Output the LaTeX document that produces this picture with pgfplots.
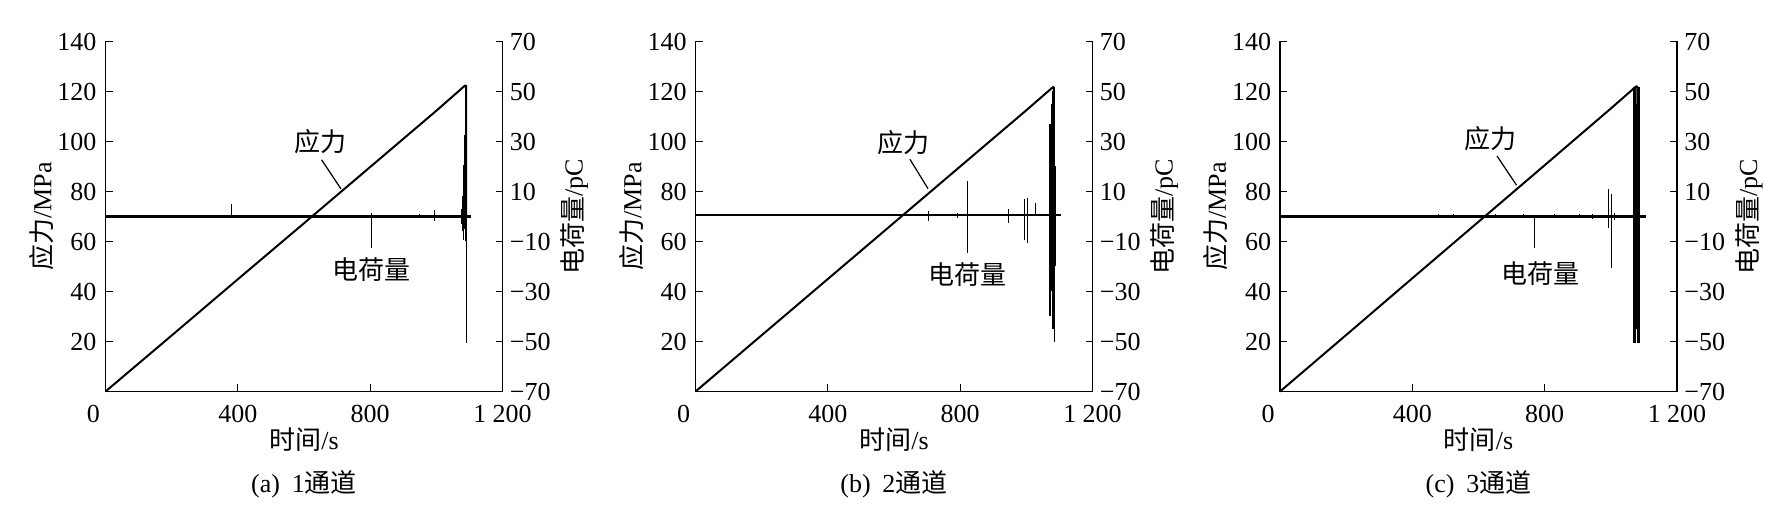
\documentclass[border=0pt]{standalone}
\usepackage{fontspec}
\setmainfont{Liberation Serif}
\newfontfamily\cjk{Noto Sans CJK SC}
\usepackage{pgfplots}
\pgfplotsset{compat=1.18}

\newcommand{\fs}{\fontsize{13}{15}\selectfont}
\tikzset{
  stress/.style={black, line width=1pt, line join=round},
  base0/.style={black, line width=1.1pt},
  spike/.style={black, line width=0.45pt},
  burst/.style={black, line width=0.9pt},
  ptr/.style={black, line width=0.6pt},
}
\pgfplotsset{
  base/.style={
    scale only axis, width=198.5pt, height=175pt,
    xmin=0, xmax=1200, clip=false,
    tick align=inside, major tick length=3.5pt,
    tick style={line width=0.6pt, black},
    axis line style={line width=0.7pt},
    ticklabel style={font=\fs, inner sep=1pt},
    label style={font=\fs},
    anchor=south west,
  },
  stressaxis/.style={base,
    ymin=0, ymax=140,
    axis x line*=bottom, axis y line*=left,
    xtick={0,400,800,1200},
    xticklabels={\makebox[0pt][r]{0\hspace{2.75pt}},400,800,1\hspace{0.25em}200},
    xticklabel style={yshift=-5.8pt},
    ytick={20,40,60,80,100,120,140},
    yticklabels={20,40,60,80,100,120,140},
    yticklabel style={xshift=-3.3pt},
    xlabel={{\cjk 时间}/s},
    ylabel={{\cjk 应力}/MPa},
    xlabel style={at={([yshift=-24pt]axis description cs:0.5,0)}, anchor=center},
    ylabel style={at={([xshift=-32pt]axis description cs:0,0.5)}, anchor=center},
  },
  chargeaxis/.style={base,
    ymin=-70, ymax=70,
    axis x line=none, axis y line*=right,
    ytick={-70,-50,-30,-10,10,30,50,70},
    yticklabels={−70,−50,−30,−10,10,30,50,70},
    yticklabel style={xshift=2.5pt},
    ylabel={{\cjk 电荷量}/pC},
    ylabel style={at={([xshift=36pt]axis description cs:1,0.5)}, anchor=center},
    unbounded coords=jump,
  },
}

\begin{document}
\begin{tikzpicture}
\useasboundingbox (0,0) rectangle (889.5pt,260pt);

% ---------------- panel (a)
\begin{axis}[stressaxis, at={(52.75pt,64.25pt)}]
\addplot[stress] coordinates {(0,0) (200,22.4) (400,44.9) (600,67.3) (800,89.8) (1000,112.3) (1086,122.3) (1090,122.3) (1090,70)};
\draw[ptr] (axis cs:653,92.7) -- (axis cs:712,81);
\node[font=\fs\cjk] at (axis cs:651,100) {应力};
\draw[spike] (axis cs:804,71.5) -- (axis cs:804,57.4);
\node[font=\fs\cjk] at (axis cs:805,48.7) {电荷量};
\node[font=\fs] at ([yshift=-46.5pt]axis description cs:0.5,0) {(a)\hspace{0.45em}1{\cjk 通道}};
\end{axis}
\begin{axis}[chargeaxis, at={(52.75pt,64.25pt)}]
\addplot[base0] coordinates {(0,0) (1106,0)};
\addplot[spike] coordinates {(0,-1.5)(0,1.5)(0,nan) (381,-0.5)(381,4.8)(381,nan) (948,-0.5)(948,1)(948,nan) (995,-1.7)(995,2.4)(995,nan) (1076,-3)(1076,3)(1076,nan) (1080,-6)(1080,8)(1080,nan) (1083,-9.3)(1083,20.5)(1083,nan) (1090,-50.6)(1090,52.4)};
\addplot[burst] coordinates {(1086,-5)(1086,32.6)(1086,nan) (1088,-10)(1088,10)};
\end{axis}

% ---------------- panel (b)
\begin{axis}[stressaxis, at={(347.75pt,64.25pt)}]
\addplot[stress] coordinates {(0,0) (200,22.5) (400,45.0) (600,67.5) (800,90.0) (1000,112.5) (1080,121.7) (1083,121.7) (1083,70)};
\draw[ptr] (axis cs:648,92.9) -- (axis cs:703,81.1);
\node[font=\fs\cjk] at (axis cs:628,99.6) {应力};
\draw[spike] (axis cs:821,70.5) -- (axis cs:821,55.4);
\node[font=\fs\cjk] at (axis cs:821,46.7) {电荷量};
\node[font=\fs] at ([yshift=-46.5pt]axis description cs:0.5,0) {(b)\hspace{0.45em}2{\cjk 通道}};
\end{axis}
\begin{axis}[chargeaxis, at={(347.75pt,64.25pt)}]
\addplot[base0] coordinates {(0,0.5) (1106,0.5)};
\addplot[spike] coordinates {(0,-1.5)(0,1.5)(0,nan) (703,-1.9)(703,2.1)(703,nan) (793,-0.5)(793,1.5)(793,nan) (821,0)(821,14.2)(821,nan) (945,-2.5)(945,3)(945,nan) (993,-9.5)(993,7)(993,nan) (1003,-10.6)(1003,7.5)(1003,nan) (1028,0)(1028,5.5)(1028,nan) (1084,-50.2)(1084,50.4)(1084,nan) (1088,-20)(1088,20)};
\addplot[burst] coordinates {(1072,-40)(1072,37)(1072,nan) (1075,-21)(1075,33)(1075,nan) (1078,-30)(1078,45)(1078,nan) (1081,-45)(1081,50)};
\end{axis}

% ---------------- panel (c)
\begin{axis}[stressaxis, at={(640pt,64.25pt)}]
\addplot[stress] coordinates {(0,0) (200,22.6) (400,45.3) (600,67.9) (800,90.5) (1000,113.2) (1076,122) (1080,122) (1080,70)};
\draw[ptr] (axis cs:656,94.2) -- (axis cs:715,82.5);
\node[font=\fs\cjk] at (axis cs:637,101) {应力};
\draw[spike] (axis cs:770,70.5) -- (axis cs:770,57.4);
\node[font=\fs\cjk] at (axis cs:788,47.3) {电荷量};
\node[font=\fs] at ([yshift=-46.5pt]axis description cs:0.5,0) {(c)\hspace{0.45em}3{\cjk 通道}};
\end{axis}
\begin{axis}[chargeaxis, at={(640pt,64.25pt)}]
\addplot[base0] coordinates {(0,0) (1106,0)};
\addplot[spike] coordinates {(0,-1.5)(0,1.5)(0,nan) (478,-0.8)(478,0.8)(478,nan) (524,-0.8)(524,0.8)(524,nan) (650,-0.8)(650,0.8)(650,nan) (735,-0.8)(735,0.8)(735,nan) (831,-0.8)(831,0.8)(831,nan) (906,-0.8)(906,0.8)(906,nan) (943,-1)(943,1)(943,nan) (992,-4.6)(992,10.9)(992,nan) (1002,-20.7)(1002,8.8)(1002,nan) (1012,-1.5)(1012,1.5)(1012,nan) (1076,-45)(1076,45)(1076,nan) (1079,-48)(1079,48)};
\addplot[black, line width=1.4pt] coordinates {(1072,-50.8)(1072,51.8)(1072,nan) (1083,-50.8)(1083,51.8)};
\end{axis}
\end{tikzpicture}
\end{document}
